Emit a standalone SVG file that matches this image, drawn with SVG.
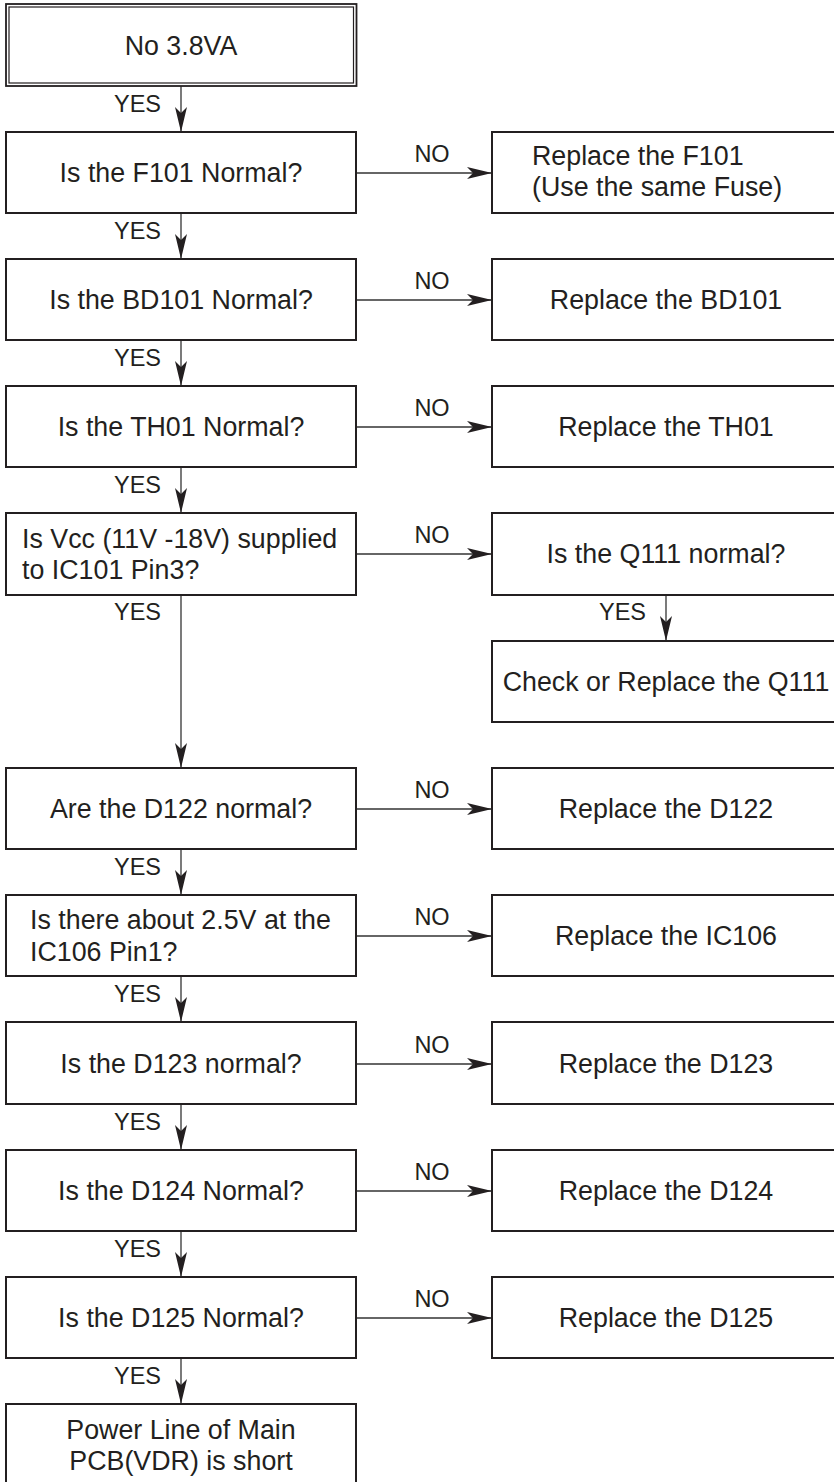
<svg xmlns="http://www.w3.org/2000/svg" width="834" height="1482" viewBox="0 0 834 1482">
<style>
.box{fill:#fff;stroke:#231f20;stroke-width:2}
.t{font-family:"Liberation Sans",Arial,sans-serif;font-size:26.8px;fill:#231f20}
.c{text-anchor:middle}
.lbl{font-family:"Liberation Sans",Arial,sans-serif;font-size:23.5px;fill:#231f20}
.con{stroke:#333;stroke-width:1.3;fill:none;marker-end:url(#arr)}
</style>
<defs>
<marker id="arr" markerUnits="userSpaceOnUse" viewBox="-26 -7 27 14" refX="0" refY="0" markerWidth="27" markerHeight="14" orient="auto">
<path d="M0,0 L-25,-6 L-19,0 L-25,6 Z" fill="#231f20"/>
</marker>
</defs>
<rect width="834" height="1482" fill="#fff"/>

<g id="connectors">
<line class="con" x1="181" y1="86" x2="181" y2="132"/>
<text class="lbl" x="114" y="112">YES</text>
<line class="con" x1="181" y1="213" x2="181" y2="259"/>
<text class="lbl" x="114" y="239">YES</text>
<line class="con" x1="181" y1="340" x2="181" y2="386"/>
<text class="lbl" x="114" y="366">YES</text>
<line class="con" x1="181" y1="467" x2="181" y2="513"/>
<text class="lbl" x="114" y="493">YES</text>
<line class="con" x1="181" y1="595" x2="181" y2="768"/>
<text class="lbl" x="114" y="620">YES</text>
<line class="con" x1="666" y1="595" x2="666" y2="641"/>
<text class="lbl" x="599" y="620">YES</text>
<line class="con" x1="181" y1="849" x2="181" y2="895"/>
<text class="lbl" x="114" y="875">YES</text>
<line class="con" x1="181" y1="976" x2="181" y2="1022"/>
<text class="lbl" x="114" y="1002">YES</text>
<line class="con" x1="181" y1="1104" x2="181" y2="1150"/>
<text class="lbl" x="114" y="1130">YES</text>
<line class="con" x1="181" y1="1231" x2="181" y2="1277"/>
<text class="lbl" x="114" y="1257">YES</text>
<line class="con" x1="181" y1="1358" x2="181" y2="1404"/>
<text class="lbl" x="114" y="1384">YES</text>

<line class="con" x1="357" y1="173" x2="492" y2="173"/>
<text class="lbl c" x="432" y="162">NO</text>
<line class="con" x1="357" y1="300" x2="492" y2="300"/>
<text class="lbl c" x="432" y="289">NO</text>
<line class="con" x1="357" y1="427" x2="492" y2="427"/>
<text class="lbl c" x="432" y="416">NO</text>
<line class="con" x1="357" y1="554" x2="492" y2="554"/>
<text class="lbl c" x="432" y="543">NO</text>
<line class="con" x1="357" y1="809" x2="492" y2="809"/>
<text class="lbl c" x="432" y="798">NO</text>
<line class="con" x1="357" y1="936" x2="492" y2="936"/>
<text class="lbl c" x="432" y="925">NO</text>
<line class="con" x1="357" y1="1064" x2="492" y2="1064"/>
<text class="lbl c" x="432" y="1053">NO</text>
<line class="con" x1="357" y1="1191" x2="492" y2="1191"/>
<text class="lbl c" x="432" y="1180">NO</text>
<line class="con" x1="357" y1="1318" x2="492" y2="1318"/>
<text class="lbl c" x="432" y="1307">NO</text>
</g>

<g id="start">
<rect x="6" y="4" width="350.5" height="82" fill="#fff" stroke="#231f20" stroke-width="1.8"/>
<rect x="9" y="7" width="344.5" height="76" fill="none" stroke="#231f20" stroke-width="1.2"/>
<text class="t c" x="181" y="55">No 3.8VA</text>
</g>

<g id="q-f101"><rect class="box" x="6" y="132" width="350" height="81"/><text class="t c" x="181" y="182">Is the F101 Normal?</text></g>
<g id="r-f101"><rect class="box" x="492" y="132" width="350" height="81"/><text class="t" x="532" y="165">Replace the F101</text><text class="t" x="532" y="196">(Use the same Fuse)</text></g>

<g id="q-bd101"><rect class="box" x="6" y="259" width="350" height="81"/><text class="t c" x="181" y="309">Is the BD101 Normal?</text></g>
<g id="r-bd101"><rect class="box" x="492" y="259" width="350" height="81"/><text class="t c" x="666" y="309">Replace the BD101</text></g>

<g id="q-th01"><rect class="box" x="6" y="386" width="350" height="81"/><text class="t c" x="181" y="436">Is the TH01 Normal?</text></g>
<g id="r-th01"><rect class="box" x="492" y="386" width="350" height="81"/><text class="t c" x="666" y="436">Replace the TH01</text></g>

<g id="q-vcc"><rect class="box" x="6" y="513" width="350" height="82"/><text class="t" x="22" y="548">Is Vcc (11V -18V) supplied</text><text class="t" x="22" y="579">to IC101 Pin3?</text></g>
<g id="q-q111"><rect class="box" x="492" y="513" width="350" height="82"/><text class="t c" x="666" y="563">Is the Q111 normal?</text></g>
<g id="r-q111"><rect class="box" x="492" y="641" width="350" height="81"/><text class="t c" x="666" y="691">Check or Replace the Q111</text></g>

<g id="q-d122"><rect class="box" x="6" y="768" width="350" height="81"/><text class="t c" x="181" y="818">Are the D122 normal?</text></g>
<g id="r-d122"><rect class="box" x="492" y="768" width="350" height="81"/><text class="t c" x="666" y="818">Replace the D122</text></g>

<g id="q-ic106"><rect class="box" x="6" y="895" width="350" height="81"/><text class="t" x="30" y="929">Is there about 2.5V at the</text><text class="t" x="30" y="961">IC106 Pin1?</text></g>
<g id="r-ic106"><rect class="box" x="492" y="895" width="350" height="81"/><text class="t c" x="666" y="945">Replace the IC106</text></g>

<g id="q-d123"><rect class="box" x="6" y="1022" width="350" height="82"/><text class="t c" x="181" y="1073">Is the D123 normal?</text></g>
<g id="r-d123"><rect class="box" x="492" y="1022" width="350" height="82"/><text class="t c" x="666" y="1073">Replace the D123</text></g>

<g id="q-d124"><rect class="box" x="6" y="1150" width="350" height="81"/><text class="t c" x="181" y="1200">Is the D124 Normal?</text></g>
<g id="r-d124"><rect class="box" x="492" y="1150" width="350" height="81"/><text class="t c" x="666" y="1200">Replace the D124</text></g>

<g id="q-d125"><rect class="box" x="6" y="1277" width="350" height="81"/><text class="t c" x="181" y="1327">Is the D125 Normal?</text></g>
<g id="r-d125"><rect class="box" x="492" y="1277" width="350" height="81"/><text class="t c" x="666" y="1327">Replace the D125</text></g>

<g id="end"><rect class="box" x="6" y="1404" width="350" height="90"/><text class="t c" x="181" y="1439">Power Line of Main</text><text class="t c" x="181" y="1470">PCB(VDR) is short</text></g>
</svg>
